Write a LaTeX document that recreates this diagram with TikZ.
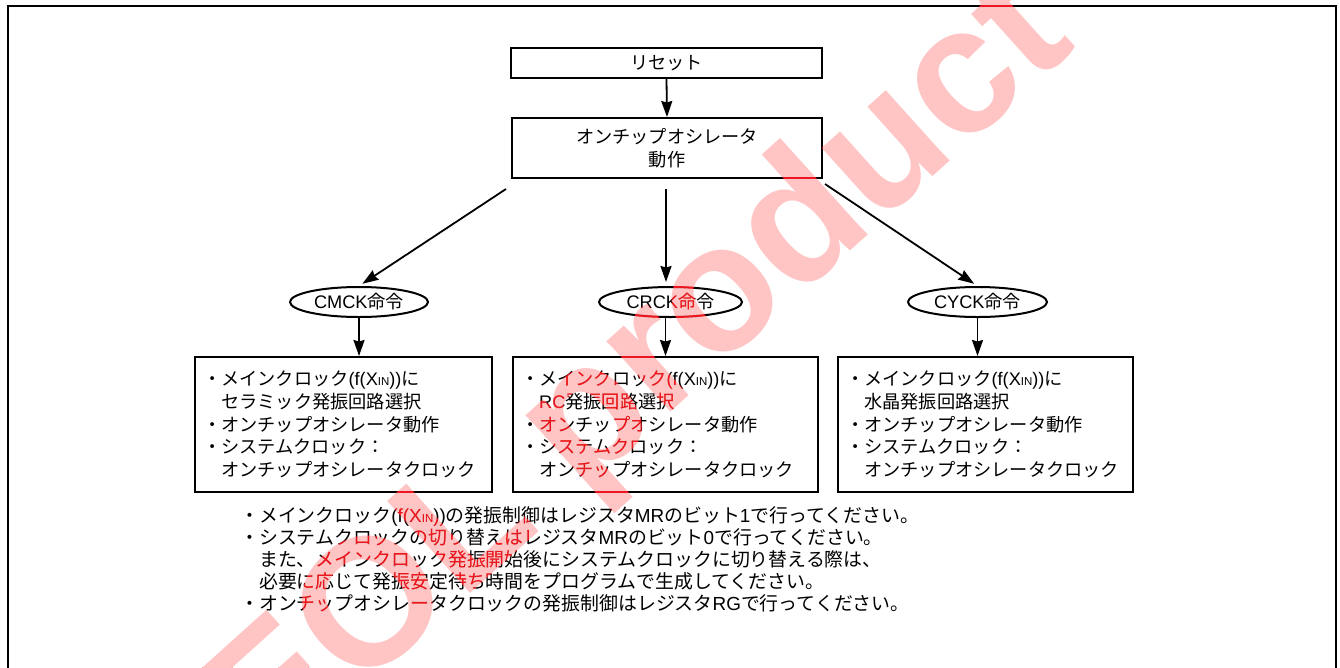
\documentclass[tikz,border=0pt]{standalone}
\usepackage{fontspec}
\setmainfont{Noto Sans CJK JP}
\newfontfamily\lat{Liberation Sans}
\usetikzlibrary{arrows.meta,shapes.geometric}
\definecolor{wmpink}{RGB}{255,196,196}
\definecolor{wmred}{RGB}{236,22,32}
\newcommand\fxin{{\lat(f(X{\fontsize{11.5}{11.5}\selectfont IN}))}}
\tikzset{
  box/.style={draw, line width=2pt, inner sep=0pt, align=center},
  ibox/.style={draw, line width=2pt, inner xsep=8pt, inner ysep=0pt, align=left, minimum height=135pt},
  ell/.style={draw, ellipse, line width=2pt, inner sep=0pt, minimum height=30pt},
  arr/.style={->, line width=1.8pt},
  wm/.style={font=\lat\bfseries\fontsize{180}{180}\selectfont, rotate=42, inner sep=0pt}
}
\begin{document}
\begin{tikzpicture}[x=1pt,y=-1pt,font=\fontsize{18.2}{22.7}\selectfont,
  >={Stealth[length=16pt,width=11pt,inset=1.5pt]}]
\useasboundingbox (0,0) rectangle (1340,667);
\fill[white] (0,0) rectangle (1340,667);
% watermark (underlay)
\node[wm, text=wmpink] (wma) at (642,376) {EOL product};
% frame
\draw[line width=2pt] (8,680) -- (8,6) -- (1336,6) -- (1336,680);
% nodes
\node[box, minimum width=311pt, minimum height=30pt] (reset) at (666.5,63) {リセット};
\node[box, minimum width=310pt, minimum height=60pt] (osc) at (667,148) {オンチップオシレータ\\動作};
\node[ell, minimum width=138pt] (cmck) at (359,302) {{\lat CMCK}命令};
\node[ell, minimum width=143pt] (crck) at (670.5,302) {{\lat CRCK}命令};
\node[ell, minimum width=139pt] (cyck) at (977.5,302) {{\lat CYCK}命令};
\node[ibox, minimum width=297pt, text width=281pt] (b1) at (343.5,424.5) {・メインクロック\fxin に\\\hphantom{・}セラミック発振回路選択\\・オンチップオシレータ動作\\・システムクロック：\\\hphantom{・}オンチップオシレータクロック};
\node[ibox, minimum width=305pt, text width=289pt] (b2) at (665.5,424.5) {・メインクロック\fxin に\\\hphantom{・}{\lat RC}発振回路選択\\・オンチップオシレータ動作\\・システムクロック：\\\hphantom{・}オンチップオシレータクロック};
\node[ibox, minimum width=295pt, text width=279pt] (b3) at (985.5,424.5) {・メインクロック\fxin に\\\hphantom{・}水晶発振回路選択\\・オンチップオシレータ動作\\・システムクロック：\\\hphantom{・}オンチップオシレータクロック};
\node[anchor=north west, align=left, inner sep=0pt, font=\fontsize{18.9}{22}\selectfont] (notes) at (240,506) {・メインクロック\fxin の発振制御はレジスタ{\lat MR}のビット{\lat 1}で行ってください。\\・システムクロックの切り替えはレジスタ{\lat MR}のビット{\lat 0}で行ってください。\\\hphantom{・}また、メインクロック発振開始後にシステムクロックに切り替える際は、\\\hphantom{・}必要に応じて発振安定待ち時間をプログラムで生成してください。\\・オンチップオシレータクロックの発振制御はレジスタ{\lat RG}で行ってください。};
% connectors
\coordinate (oL) at (506,189);
\coordinate (oC) at (666,189);
\coordinate (oR) at (825,184);
\draw[arr] (reset.south) -- (osc.north);
\draw[arr, shorten >=4pt] (oL) -- (cmck.north);
\draw[arr, shorten >=4pt] (oC) -- (oC |- crck.north);
\draw[arr, shorten >=4pt] (oR) -- (cyck.north);
\draw[arr] (cmck.south) -- (cmck.south |- b1.north);
\draw[arr] (b2.north |- crck.south) -- (b2.north);
\draw[arr] (cyck.south) -- (cyck.south |- b3.north);
% watermark (overlay on dark ink)
\begin{scope}[blend mode=lighten]
\node[wm, text=wmred] (wmb) at (642,376) {EOL product};
\end{scope}
\end{tikzpicture}
\end{document}
